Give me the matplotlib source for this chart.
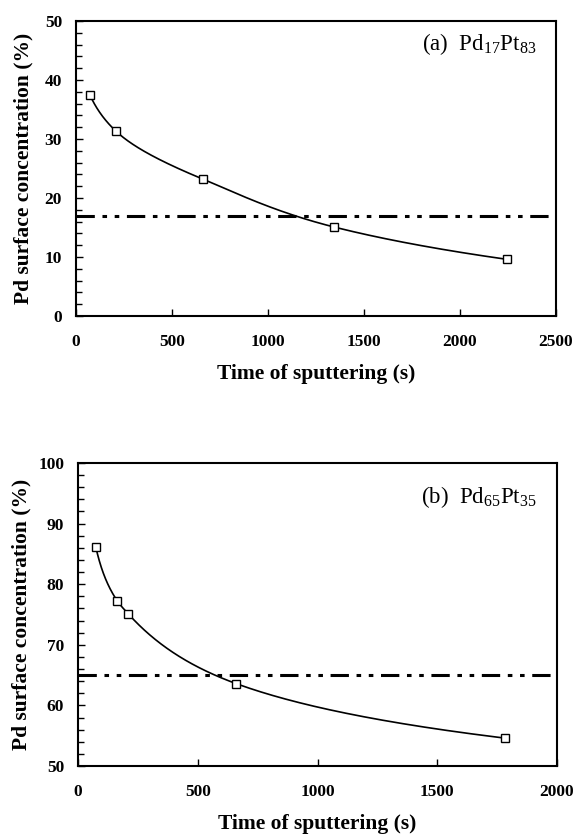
import numpy as np
import matplotlib
matplotlib.use("Agg")
import matplotlib.pyplot as plt
from matplotlib.ticker import MultipleLocator

# ---- data ----
time_a = [72, 209, 661, 1342, 2245]
conc_a = [37.5, 31.3, 23.2, 15.1, 9.6]
bulk_a = 17.0

time_b = [74, 163, 210, 660, 1783]
conc_b = [86.2, 77.3, 75.1, 63.6, 54.6]
bulk_b = 65.0

x_ticks_a = [0, 500, 1000, 1500, 2000, 2500]
y_ticks_a = [0, 10, 20, 30, 40, 50]
x_ticks_b = [0, 500, 1000, 1500, 2000]
y_ticks_b = [50, 60, 70, 80, 90, 100]

label_a = r"(a)  Pd$_{17}$Pt$_{83}$"
label_b = r"(b)  Pd$_{65}$Pt$_{35}$"
xlabel = "Time of sputtering (s)"
ylabel = "Pd surface concentration (%)"

plt.rcParams['font.family'] = ['Liberation Serif', 'DejaVu Serif']
plt.rcParams['mathtext.fontset'] = 'custom'
plt.rcParams['mathtext.rm'] = 'Liberation Serif'
plt.rcParams['mathtext.it'] = 'Liberation Serif'


def pchip(x, y, xn):
    x = np.asarray(x, float); y = np.asarray(y, float)
    h = np.diff(x); d = np.diff(y) / h
    n = len(x); m = np.zeros(n)
    for k in range(1, n - 1):
        if d[k - 1] * d[k] > 0:
            w1 = 2 * h[k] + h[k - 1]; w2 = h[k] + 2 * h[k - 1]
            m[k] = (w1 + w2) / (w1 / d[k - 1] + w2 / d[k])
    m[0] = ((2 * h[0] + h[1]) * d[0] - h[0] * d[1]) / (h[0] + h[1])
    if np.sign(m[0]) != np.sign(d[0]):
        m[0] = 0
    m[-1] = ((2 * h[-1] + h[-2]) * d[-1] - h[-1] * d[-2]) / (h[-1] + h[-2])
    if np.sign(m[-1]) != np.sign(d[-1]):
        m[-1] = 0
    idx = np.clip(np.searchsorted(x, xn) - 1, 0, n - 2)
    t = (xn - x[idx]) / h[idx]
    h00 = 2 * t**3 - 3 * t**2 + 1; h10 = t**3 - 2 * t**2 + t
    h01 = -2 * t**3 + 3 * t**2; h11 = t**3 - t**2
    return h00 * y[idx] + h10 * h[idx] * m[idx] + h01 * y[idx + 1] + h11 * h[idx] * m[idx + 1]


fig = plt.figure(figsize=(5.77, 8.38), dpi=100)
ax1 = fig.add_axes([76 / 577, 1 - 316 / 838, 480 / 577, 295 / 838])
ax2 = fig.add_axes([78 / 577, 1 - 766 / 838, 479 / 577, 303 / 838])

panels = [
    (ax1, time_a, conc_a, bulk_a, x_ticks_a, y_ticks_a, label_a, 0.922, -0.088, -0.162),
    (ax2, time_b, conc_b, bulk_b, x_ticks_b, y_ticks_b, label_b, 0.888, -0.097, -0.158),
]
for ax, tx, cy, bulk, xt, yt, lab, ty, ylx, xly in panels:
    lx = np.log(tx)
    xs = np.linspace(lx[0], lx[-1], 500)
    ax.plot(np.exp(xs), pchip(lx, cy, xs), color='black', lw=1.2)
    ax.plot(tx, cy, ls='none', marker='s', ms=5.5, mfc='white', mec='black', mew=1.0, zorder=3)
    ax.axhline(bulk, color='black', lw=2.2, ls=(0, (6, 2.5, 1.5, 2.5, 1.5, 2.5)))
    ax.set_xlim(xt[0], xt[-1])
    ax.set_ylim(yt[0], yt[-1])
    ax.set_xticks(xt)
    ax.set_yticks(yt)
    ax.yaxis.set_minor_locator(MultipleLocator(2))
    ax.tick_params(axis='both', which='both', direction='in', top=False, right=False)
    ax.tick_params(axis='both', which='major', length=5, width=1, labelsize=12.5)
    ax.tick_params(axis='x', which='major', pad=13)
    ax.tick_params(axis='y', which='major', pad=10)
    ax.tick_params(axis='y', which='minor', length=4, width=1)
    for t in ax.get_xticklabels() + ax.get_yticklabels():
        t.set_fontweight('bold')
    for s in ax.spines.values():
        s.set_linewidth(1.5)
    ax.set_xlabel(xlabel, fontsize=15.5, fontweight='bold', va='top')
    ax.set_ylabel(ylabel, fontsize=15.5, fontweight='bold')
    ax.xaxis.set_label_coords(0.5, xly)
    ax.yaxis.set_label_coords(ylx, 0.5)
    ax.text(0.958, ty, lab, transform=ax.transAxes, ha='right', va='center', fontsize=16.5)

fig.savefig("out.png", dpi=100)
